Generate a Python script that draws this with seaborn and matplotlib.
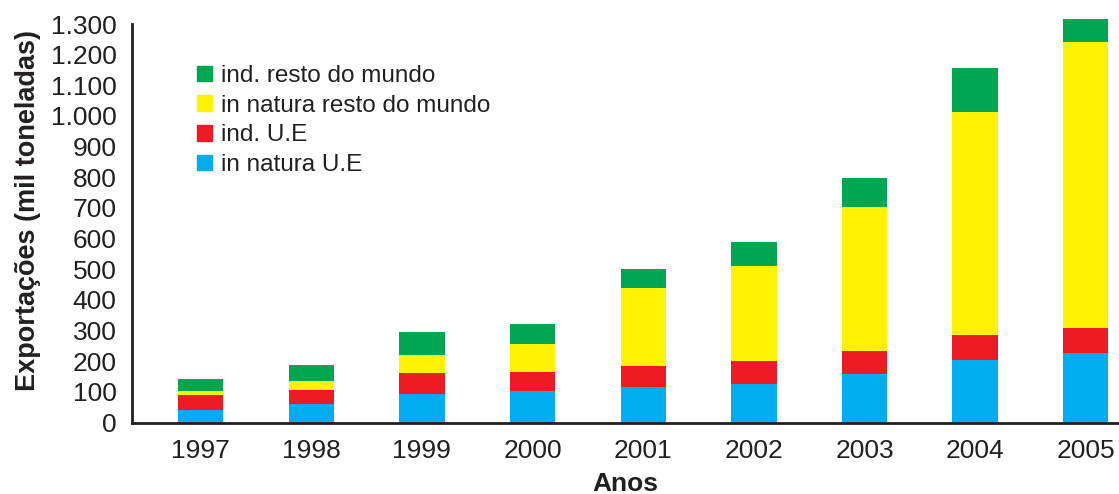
import numpy as np
import pandas as pd
import matplotlib
matplotlib.use("Agg")
import matplotlib.pyplot as plt
import matplotlib.patches as mpatches
import seaborn as sns

# Exportações por destino (mil toneladas)
anos = ["1997", "1998", "1999", "2000", "2001", "2002", "2003", "2004", "2005"]
in_natura_ue = [42, 59, 94, 103, 116, 126, 158, 204, 227]
ind_ue = [49, 48, 66, 62, 68, 75, 75, 81, 81]
in_natura_resto = [13, 30, 61, 91, 255, 310, 470, 728, 933]
ind_resto = [39, 52, 75, 65, 62, 78, 95, 144, 75]

series = [
    ("in natura U.E", in_natura_ue, "#00AEEF"),
    ("ind. U.E", ind_ue, "#ED1C24"),
    ("in natura resto do mundo", in_natura_resto, "#FFF200"),
    ("ind. resto do mundo", ind_resto, "#00A651"),
]

sns.set_style("white")
plt.rcParams['font.family'] = ['Liberation Sans', 'DejaVu Sans']
axis_color = "#231F20"

fig = plt.figure(figsize=(11.19, 4.94), dpi=100)
ax = fig.add_axes([132 / 1119, 0.1447, 1 - 132 / 1119, 0.8067])

bottom = np.zeros(len(anos))
handles = []
for name, vals, color in series:
    df = pd.DataFrame({"ano": anos, "valor": vals})
    sns.barplot(data=df, x="ano", y="valor", bottom=bottom, color=color,
                width=0.41, saturation=1, linewidth=0, ax=ax, clip_on=False)
    bottom = bottom + np.array(vals)
    handles.append(mpatches.Patch(color=color, label=name))

ax.set_xlim(-0.62, 8.30)
ax.set_ylim(0, 1300)
ax.set_yticks(range(0, 1301, 100))
ax.set_yticklabels([f"{v:,}".replace(",", ".") for v in range(0, 1301, 100)])

# category boundaries carry the tick marks, labels sit under the bars
ax.tick_params(axis="x", which="major", length=0, labelsize=19, pad=12,
               colors=axis_color)
ax.set_xticks(np.arange(-0.62, 8, 1), minor=True)
ax.tick_params(axis="x", which="minor", length=7, width=2, color=axis_color,
               direction="out")
ax.tick_params(axis="y", length=6, width=2, color=axis_color, labelsize=19,
               pad=5, labelcolor=axis_color, direction="out")

for side in ["top", "right"]:
    ax.spines[side].set_visible(False)
for side in ["left", "bottom"]:
    ax.spines[side].set_color(axis_color)
    ax.spines[side].set_linewidth(2)

ax.set_xlabel("Anos", fontsize=19, fontweight="bold", color=axis_color,
              labelpad=6)
ax.set_ylabel("Exportações (mil toneladas)", fontsize=19.5, fontweight="bold",
              color=axis_color)
ax.yaxis.set_label_coords(-0.092, 0.533)

ax.legend(handles=handles[::-1], loc="upper left", bbox_to_anchor=(0.056, 0.922),
          frameon=False, fontsize=17.5, handlelength=0.6, handleheight=0.6,
          handletextpad=0.4, labelspacing=0.32, labelcolor=axis_color,
          borderaxespad=0)

fig.savefig("out.png", dpi=100)
